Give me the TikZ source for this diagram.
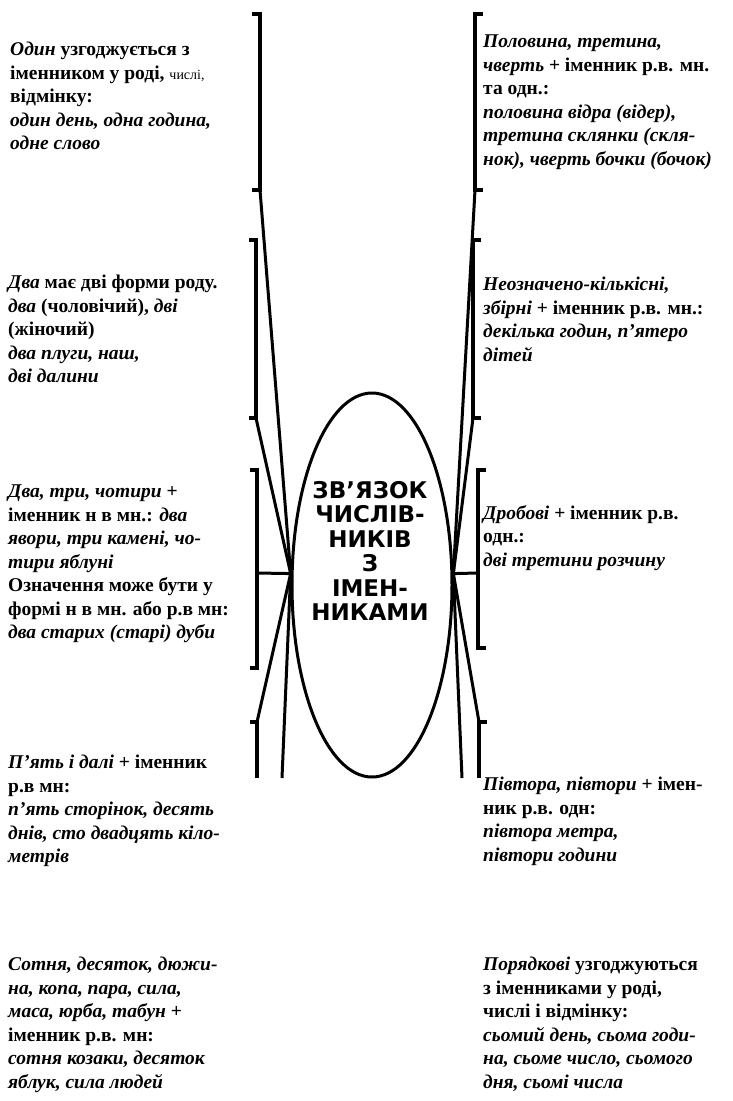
\documentclass[tikz,border=0pt]{standalone}
\usepackage{fontspec}
\setmainfont{Liberation Serif}
\newfontfamily\hubfont{DejaVu Sans}
\usetikzlibrary{shapes.geometric}

\begin{document}
\begin{tikzpicture}[x=1pt, y=-1pt,
  note/.style={anchor=north west, inner sep=0pt, align=left, font=\bfseries\fontsize{19.5}{23.5}\selectfont},
  hub/.style={draw, ellipse, line width=3pt, minimum width=160pt, minimum height=384pt, inner sep=0pt},
  hubtext/.style={align=center, inner sep=0pt, font=\hubfont\bfseries\fontsize{23}{24.5}\selectfont},
  brk/.style={line width=3.6pt},
  link/.style={line width=3pt}
]
\useasboundingbox (0,0) rectangle (732,1101);

\node[hub] (hub) at (372,585) {};
\node[hubtext] (title) at (370,551) {ЗВ’ЯЗОК\\ЧИСЛІВ-\\НИКІВ\\З\\ІМЕН-\\НИКАМИ};

% left column
\node[note] (one) at (10,42) {\textit{Один} узгоджується з\\іменником у роді, {\mdseries\fontsize{14}{23.5}\selectfont числі,}\\відмінку:\\\textit{один день, одна година,}\\\textit{одне слово}};
\node[note] (two) at (8,275) {\textit{Два} має дві форми роду.\\\textit{два} (чоловічий), \textit{дві}\\(жіночий)\\\textit{два плуги, наш,}\\\textit{дві далини}};
\node[note] (four) at (8,485) {\textit{Два, три, чотири} +\\іменник н в мн.: \textit{два}\\\textit{явори, три камені, чо-}\\\textit{тири яблуні}\\Означення може бути у\\формі н в мн. або р.в мн:\\\textit{два старих (старі) дуби}};
\node[note] (five) at (8,755) {\textit{П'ять і далі} + іменник\\р.в мн:\\\textit{п'ять сторінок, десять}\\\textit{днів, сто двадцять кіло-}\\\textit{метрів}};
\node[note] (group) at (8,957) {\textit{Сотня, десяток, дюжи-}\\\textit{на, копа, пара, сила,}\\\textit{маса, юрба, табун} +\\іменник р.в. мн:\\\textit{сотня козаки, десяток}\\\textit{яблук, сила людей}};

% right column
\node[note] (half) at (483,35) {\textit{Половина, третина,}\\\textit{чверть} + іменник р.в. мн.\\та одн.:\\\textit{половина відра (відер),}\\\textit{третина склянки (скля-}\\\textit{нок), чверть бочки (бочок)}};
\node[note] (indef) at (483,277) {\textit{Неозначено-кількісні,}\\\textit{збірні} + іменник р.в. мн.:\\\textit{декілька годин, п'ятеро}\\\textit{дітей}};
\node[note] (frac) at (483,505) {\textit{Дробові} + іменник р.в.\\одн.:\\\textit{дві третини розчину}};
\node[note] (oneandhalf) at (483,777) {\textit{Півтора, півтори} + імен-\\ник р.в. одн:\\\textit{півтора метра,}\\\textit{півтори години}};
\node[note] (ordinal) at (483,957) {\textit{Порядкові} узгоджуються\\з іменниками у роді,\\числі і відмінку:\\\textit{сьомий день, сьома годи-}\\\textit{на, сьоме число, сьомого}\\\textit{дня, сьомі числа}};

% brackets
\coordinate (l1b) at (260,190);
\coordinate (l2b) at (256,418);
\coordinate (l3m) at (257,573);
\coordinate (l4t) at (257,722);
\coordinate (l5e) at (282,778);
\coordinate (r1b) at (475,190);
\coordinate (r2b) at (473,418);
\coordinate (r3m) at (478,573);
\coordinate (r4t) at (479,722);
\coordinate (r5e) at (462,778);

\draw[brk] (252,14) -- (260,14) -- (l1b) -- (252,190);
\draw[brk] (249,240) -- (256,240) -- (l2b) -- (249,418);
\draw[brk] (250,470) -- (257,470) -- (257,668) -- (250,668);
\draw[brk] (250,722) -- (l4t) -- (257,778);
\draw[brk] (483,14) -- (475,14) -- (r1b) -- (483,190);
\draw[brk] (481,240) -- (473,240) -- (r2b) -- (481,418);
\draw[brk] (486,470) -- (478,470) -- (478,648) -- (486,648);
\draw[brk] (487,722) -- (r4t) -- (479,778);

% connectors
\draw[link] (l1b) -- (hub.172);
\draw[link] (l2b) -- (hub.172);
\draw[link] (l3m) -- (hub.172);
\draw[link] (hub.172) -- (l4t);
\draw[link] (hub.172) -- (l5e);
\draw[link] (r1b) -- (hub.8);
\draw[link] (r2b) -- (hub.8);
\draw[link] (r3m) -- (hub.8);
\draw[link] (hub.8) -- (r4t);
\draw[link] (hub.8) -- (r5e);
\end{tikzpicture}
\end{document}
